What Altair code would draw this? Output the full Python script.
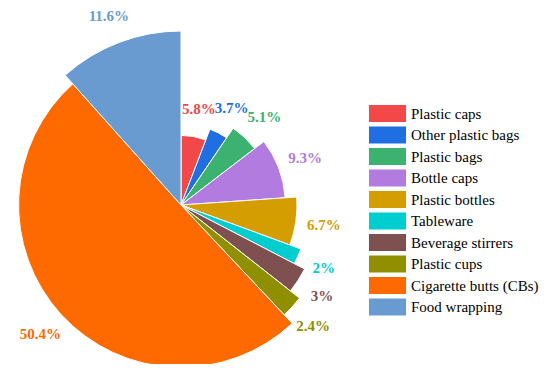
import altair as alt
import pandas as pd

categories = ["Plastic caps", "Other plastic bags", "Plastic bags", "Bottle caps",
              "Plastic bottles", "Tableware", "Beverage stirrers", "Plastic cups",
              "Cigarette butts (CBs)", "Food wrapping"]
values = [5.8, 3.7, 5.1, 9.3, 6.7, 2.0, 3.0, 2.4, 50.4, 11.6]
labels = ["5.8%", "3.7%", "5.1%", "9.3%", "6.7%", "2%", "3%", "2.4%", "50.4%", "11.6%"]
colors = ["#F24848", "#1F6FE2", "#3BB270", "#B27BE0", "#D49E00",
          "#00CDCF", "#7F5050", "#8F8F00", "#FF6A00", "#6A9BD0"]
rank = list(range(1, len(categories) + 1))

df = pd.DataFrame({"category": categories, "value": values, "label": labels, "k": rank})

FONT = "Liberation Serif"
rscale = alt.Scale(domain=[-5, 10], range=[0, 174], zero=False, type="linear")
tscale = alt.Scale(domain=[0, 100], range=[0, 6.283185307179586], type="linear", zero=False)
cscale = alt.Scale(domain=categories, range=colors)

base = alt.Chart(df).transform_window(
    cum="sum(value)", sort=[alt.SortField("k")], frame=[None, 0]
).transform_calculate(
    start="datum.cum - datum.value",
    mid="datum.cum - datum.value / 2",
    rl="datum.k + 2.45",
)

arcs = base.mark_arc(stroke="white", strokeWidth=1).encode(
    theta=alt.Theta("start:Q", scale=tscale),
    theta2="cum:Q",
    radius=alt.Radius("k:Q", scale=rscale, stack=False),
    radius2=alt.value(0),
    color=alt.Color("category:N", scale=cscale, sort=categories,
                    legend=alt.Legend(title=None, orient="none", legendX=371, legendY=97,
                                      symbolType="M-2.18,-1H2.18V1H-2.18Z", symbolSize=289,
                                      symbolStrokeWidth=0, symbolOpacity=1,
                                      labelFont=FONT, labelFontSize=15, labelColor="#000",
                                      labelOffset=15, rowPadding=4.5, labelLimit=200)),
    x=alt.value(173), y=alt.value(197),
)

text = base.mark_text(
    font=FONT, fontSize=15, fontWeight="bold", align="center", baseline="middle"
).encode(
    theta=alt.Theta("mid:Q", scale=tscale),
    radius=alt.Radius("rl:Q", scale=rscale, stack=False),
    text="label:N",
    color=alt.Color("category:N", scale=cscale, legend=None),
    x=alt.value(173), y=alt.value(197),
)

chart = alt.layer(arcs, text).properties(
    width=534, height=356, padding=0,
    autosize=alt.AutoSizeParams(type="none"),
).configure_view(stroke=None)

chart.save("out.html", embed_options={"renderer": "svg", "actions": False})
